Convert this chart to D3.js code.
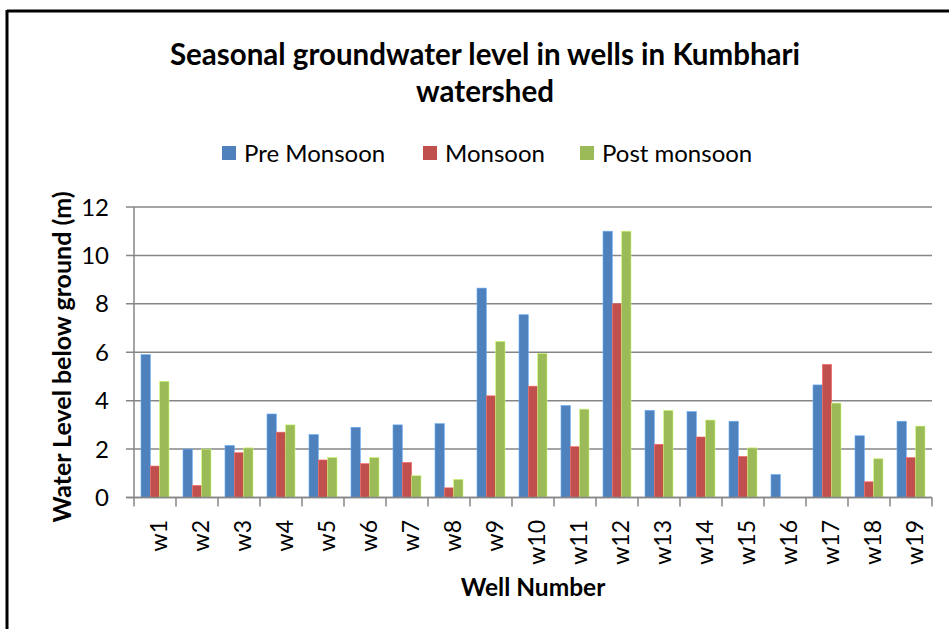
<!DOCTYPE html>
<html>
<head>
<meta charset="utf-8">
<script src="https://cdn.jsdelivr.net/npm/d3@7"></script>
<style>
  html, body { margin: 0; padding: 0; background: #fff; }
  svg { display: block; }
  text { font-family: Lato, "Open Sans", sans-serif; fill: #000; }
</style>
</head>
<body>
<svg id="chart" width="949" height="629"></svg>
<script>
// Well identifiers along the x axis
const wells = ["w1","w2","w3","w4","w5","w6","w7","w8","w9","w10",
               "w11","w12","w13","w14","w15","w16","w17","w18","w19"];

// Water level below ground (m) for each season
const preMonsoon  = [5.9, 2.0, 2.15, 3.45, 2.6, 2.9, 3.0, 3.05, 8.65, 7.55, 3.8, 11.0, 3.6, 3.55, 3.15, 0.95, 4.65, 2.55, 3.15];
const monsoon     = [1.3, 0.5, 1.85, 2.7, 1.55, 1.4, 1.45, 0.4, 4.2, 4.6, 2.1, 8.0, 2.2, 2.5, 1.7, 0, 5.5, 0.65, 1.65];
const postMonsoon = [4.8, 2.0, 2.05, 3.0, 1.65, 1.65, 0.9, 0.75, 6.45, 5.95, 3.65, 11.0, 3.6, 3.2, 2.05, 0, 3.9, 1.6, 2.95];

const seriesNames = ["Pre Monsoon", "Monsoon", "Post monsoon"];
const seriesColors = ["#4F81BD", "#C0504D", "#9BBB59"];
const yTicks = [0, 2, 4, 6, 8, 10, 12];

const titleLines = ["Seasonal groundwater level in wells in Kumbhari", "watershed"];
const xTitle = "Well Number";
const yTitle = "Water Level below ground (m)";

const seriesValues = [preMonsoon, monsoon, postMonsoon];
const rows = wells.map((w, i) => ({
  well: w,
  values: seriesNames.map((s, k) => ({ series: s, value: seriesValues[k][i], color: seriesColors[k] }))
}));

const svg = d3.select("#chart");
const plot = { left: 134, right: 932, top: 207, bottom: 497.5 };
const gridColor = "#868686";

// chart frame (top and left edges)
svg.append("line").attr("x1", 7).attr("x2", 949).attr("y1", 11).attr("y2", 11)
  .attr("stroke", "#000").attr("stroke-width", 3);
svg.append("line").attr("x1", 7).attr("x2", 7).attr("y1", 10).attr("y2", 629)
  .attr("stroke", "#000").attr("stroke-width", 3);

// scales
const x0 = d3.scaleBand().domain(wells).range([plot.left, plot.right]).padding(0);
const x1 = d3.scaleBand().domain(seriesNames).range([0, x0.bandwidth()])
  .paddingInner(0).paddingOuter(0.75);
const y = d3.scaleLinear().domain([0, 12]).range([plot.bottom, plot.top]);

// horizontal gridlines with outward ticks
svg.append("g").selectAll("line").data(yTicks).join("line")
  .attr("x1", plot.left - 8).attr("x2", plot.right)
  .attr("y1", d => y(d)).attr("y2", d => y(d))
  .attr("stroke", gridColor).attr("stroke-width", 1.5);

// y axis line
svg.append("line").attr("x1", plot.left).attr("x2", plot.left)
  .attr("y1", plot.top).attr("y2", plot.bottom)
  .attr("stroke", gridColor).attr("stroke-width", 1.5);

// y tick labels
svg.append("g").selectAll("text").data(yTicks).join("text")
  .attr("x", 109).attr("y", d => y(d)).attr("dy", "0.36em")
  .attr("text-anchor", "end").attr("font-size", 24)
  .text(d => d);

// bars
const groups = svg.append("g").selectAll("g").data(rows).join("g")
  .attr("transform", d => `translate(${x0(d.well)},0)`);
groups.selectAll("rect").data(d => d.values).join("rect")
  .attr("x", d => x1(d.series))
  .attr("width", x1.bandwidth())
  .attr("y", d => y(d.value))
  .attr("height", d => y(0) - y(d.value))
  .attr("fill", d => d.color)
  .attr("stroke", d => d3.color(d.color).brighter(0.8))
  .attr("stroke-width", d => d.value > 0 ? 0.6 : 0);

// x axis baseline redrawn above bars, with category ticks
svg.append("line").attr("x1", plot.left - 8).attr("x2", plot.right)
  .attr("y1", plot.bottom).attr("y2", plot.bottom)
  .attr("stroke", gridColor).attr("stroke-width", 1.5);
const boundaries = wells.map(w => x0(w)).concat([plot.right]);
svg.append("g").selectAll("line").data(boundaries).join("line")
  .attr("x1", d => d).attr("x2", d => d)
  .attr("y1", plot.bottom).attr("y2", plot.bottom + 9)
  .attr("stroke", gridColor).attr("stroke-width", 1.5);

// x tick labels, rotated
svg.append("g").selectAll("text").data(wells).join("text")
  .attr("transform", d => `translate(${x0(d) + x0.bandwidth() / 2 + 11.5},520) rotate(-90)`)
  .attr("text-anchor", "end").attr("font-size", 23)
  .text(d => d);

// title
svg.append("g").selectAll("text").data(titleLines).join("text")
  .attr("x", 485).attr("y", (d, i) => 65 + i * 37)
  .attr("text-anchor", "middle").attr("font-size", 29.5).attr("font-weight", "bold")
  .text(d => d);

// legend
const legendX = [222, 423, 580];
const legend = svg.append("g").selectAll("g").data(seriesNames).join("g")
  .attr("transform", (d, i) => `translate(${legendX[i]},146)`);
legend.append("rect").attr("width", 14).attr("height", 14)
  .attr("fill", (d, i) => seriesColors[i]);
legend.append("text").attr("x", 22).attr("y", 15.5).attr("font-size", 24)
  .text(d => d);

// axis titles
svg.append("text").attr("x", 533).attr("y", 596)
  .attr("text-anchor", "middle").attr("font-size", 24.5).attr("font-weight", "bold")
  .text(xTitle);
svg.append("text").attr("transform", "translate(71,357) rotate(-90)")
  .attr("text-anchor", "middle").attr("font-size", 25).attr("font-weight", "bold")
  .text(yTitle);
</script>
</body>
</html>
